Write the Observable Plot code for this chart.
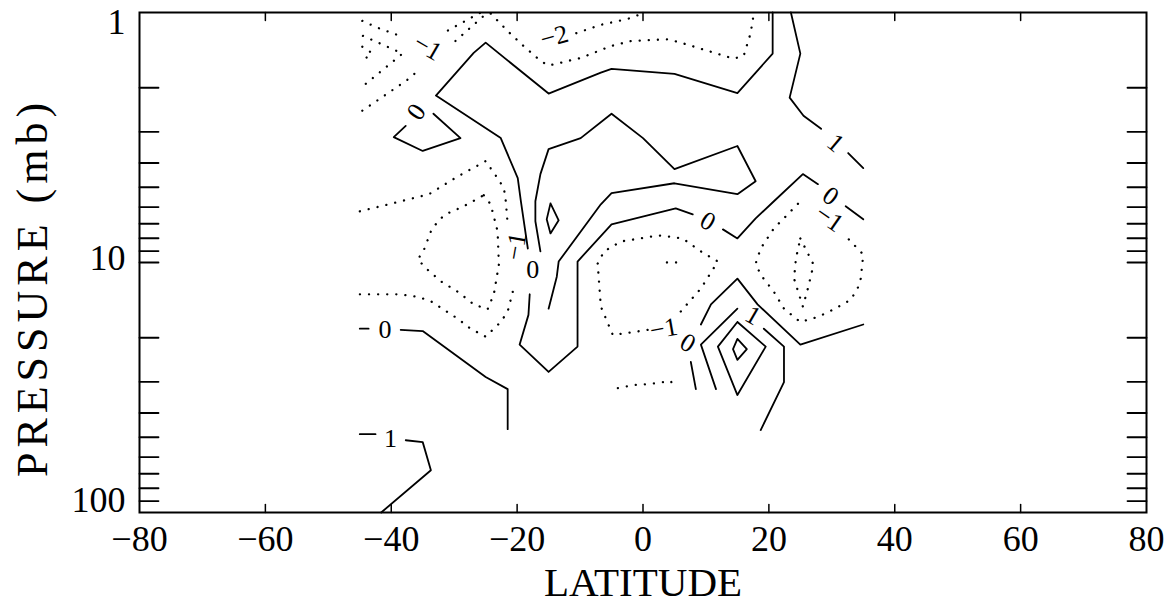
<!DOCTYPE html>
<html><head><meta charset="utf-8">
<script src="https://cdn.jsdelivr.net/npm/d3@7"></script>
<script src="https://cdn.jsdelivr.net/npm/@observablehq/plot@0.6"></script>
<style>body{margin:0;background:#fff} #chart svg{display:block} #chart svg text[transform*="rotate(-90)"]{letter-spacing:5px}</style>
</head><body><div id="chart"></div>
<script>
// Axis values
const xTicks = [-80, -60, -40, -20, 0, 20, 40, 60, 80];
const xInnerTicks = [-60, -40, -20, 0, 20, 40, 60];
const yLabelTicks = [1, 10, 100];
const yMinorTicks = [2, 3, 4, 5, 6, 7, 8, 9, 10, 20, 30, 40, 50, 60, 70, 80, 90];

// Contour vertices as [latitude, pressure (mb)]; level >= 0 solid, < 0 dotted
const zeroA = [[20.6,1],[20.6,1.46],[15,2.1],[5,1.76],[-5,1.68],[-6.7,1.74],[-15,2.11],[-25,1.32],[-26.9,1.45],[-32.9,2.15],[-22.6,3.18],[-19.9,4.6],[-19.4,5.69],[-18.3,8.79]];
const zeroB = [[-18,13.4],[-18.2,16.2],[-19.6,21.3],[-15,27.4],[-10.4,21.7],[-10.4,9.91],[-5,7.04],[5.2,6.07],[7.9,6.42]];
const zeroC = [[12.7,7.37],[15,8.01],[17.9,6.66],[20.8,5.69],[25.4,4.43],[27.8,4.86]];
const zeroD = [[32.2,5.96],[35,6.72]];
const zeroTongue = [[-16.3,9.03],[-17.1,6.84],[-17.1,5.69],[-16.3,4.43],[-15,3.52],[-9.9,3.18],[-5,2.54],[0,3.18],[5,4.23],[15,3.42],[17.9,4.73],[15,5.33],[5,4.82],[-5,5.28],[-6.7,5.85],[-13.4,9.91],[-13.7,11.4],[-15,15.3]];
const zeroSmallDiamond = [[-14.7,5.8],[-13.4,6.78],[-14.7,7.65],[-15.3,6.72],[-14.7,5.8]];
const zeroUpperLoop = [[-33.3,2.54],[-29,3.18],[-35,3.58],[-39.6,3.15],[-37.7,2.84]];
const zeroLowLeftA = [[-45,18.4],[-43.6,18.4]];
const zeroLowLeftB = [[-38.5,18.6],[-35,18.8],[-25,28.7],[-21.5,32.1],[-21.5,46.4]];
const zeroLowRightA = [[35,17.7],[25,21.3],[18.2,14.7],[15,11.6],[10.8,14.7],[9.2,17.7]];
const zeroLowRightB = [[7.6,25.0],[8.4,32.1]];
const oneTopA = [[23.5,1],[25,1.46],[23.3,2.19],[25.5,2.59],[28.3,2.92]];
const oneTopB = [[32.6,3.65],[35,4.19]];
const oneLowLeftA = [[-45,48.6],[-42.5,48.6]];
const oneLowLeftB = [[-37.7,51.4],[-35,52.3],[-33.7,67.8],[-41.6,100]];
const oneLowRightA = [[15,15.3],[9.2,21.3],[11.6,32.1]];
const oneLowRightB = [[19.2,18.4],[22.4,21.7],[22.4,30.1],[18.7,46.8]];
const twoDiamond = [[15,17.3],[19.5,21.7],[15,33.9],[11.9,21.7],[15,17.3]];
const threeDiamond = [[15,20.2],[16.5,22.2],[15,24.5],[14.3,22.2],[15,20.2]];

const negTopEdge = [[-24.2,1.01],[-21.3,1.2],[-19,1.36],[-16.3,1.56],[-15,1.63],[-9.9,1.52],[-5,1.36],[-1.9,1.3],[3.9,1.28],[6,1.32],[14.4,1.53],[16,1.49],[17.1,1.21],[17.6,1.01]];
const negTwoTop = [[-10.6,1.21],[-6.7,1.12],[-2.4,1.06],[0.4,1.0]];
const fanA = [[-44.6,1.08],[-42.2,1.15],[-39,1.23],[-37.9,1.26]];
const fanB = [[-44.5,1.24],[-38.2,1.46],[-44.6,1.98]];
const fanC = [[-44.6,1.37],[-43.1,1.45],[-44.6,1.57]];
const fanF = [[-44.6,2.47],[-37.7,1.88],[-36.6,1.79],[-35.4,1.66]];
const fanG1 = [[-31,1.18],[-25.8,1.0]];
const fanG2 = [[-29.8,1.3],[-24.7,1.0]];
const negLeftOuterA = [[-45,6.24],[-40.4,5.85],[-34,5.33],[-29.4,4.52],[-25,3.93],[-23.1,4.6],[-22.1,5.05],[-21.8,5.69],[-21.5,7.04]];
const negLeftOuterB = [[-20.7,13.1],[-21.5,15.7],[-22.6,17.3],[-25,19.8],[-27.4,18.4],[-29.4,16.8],[-31.7,15.4],[-33.7,14.3],[-35.8,13.7],[-39,13.4],[-45,13.4]];
const negLeftInner = [[-25.3,5.38],[-24.2,5.85],[-23.1,7.51],[-22.9,10.2],[-23.7,13.4],[-24.7,15.4],[-26.9,14.7],[-29.4,13.1],[-32.1,11.9],[-34.2,10.7],[-35.8,9.72],[-34.9,9.03],[-33.7,7.51],[-32.6,6.84],[-31.4,6.42],[-28.5,5.96],[-25.3,5.38]];
const negMidLoop = [[6,15.7],[9.2,12.7],[11.9,9.91],[9.2,9.03],[6.3,8.01],[2.5,7.79],[-3.5,8.24],[-6.2,9.03],[-7.2,10.1],[-6.7,15.0],[-4.8,19.5],[0.8,18.6]];
const negMidDash = [[3.8,10.0],[5.7,10.0]];
const negLowShort = [[-4,31.8],[-1.5,30.9],[1.2,30.6],[4.4,29.8],[5.2,32.1]];
const negRightLoop = [[32.7,8.08],[35,9.29],[34.6,11.6],[34.1,12.7],[33,14.1],[30.3,15.4],[27.8,16.5],[25,17.3],[22.4,15.3],[20.8,13.1],[18.7,11.2],[17.9,10.1],[18.7,8.79],[20.8,7.3],[23,6.42],[25,5.69]];
const negRightInner = [[25,8.01],[27.1,10.2],[26.2,12.7],[25.4,15.0],[24,11.6],[24.3,9.64],[25,8.01]];

const contourLines = [
  [0, zeroA],[0, zeroB],[0, zeroC],[0, zeroD],[0, zeroTongue],[0, zeroSmallDiamond],[0, zeroUpperLoop],
  [0, zeroLowLeftA],[0, zeroLowLeftB],[0, zeroLowRightA],[0, zeroLowRightB],
  [1, oneTopA],[1, oneTopB],[1, oneLowLeftA],[1, oneLowLeftB],[1, oneLowRightA],[1, oneLowRightB],
  [2, twoDiamond],[3, threeDiamond],
  [-1, negTopEdge],[-2, negTwoTop],[-1, fanA],[-2, fanB],[-3, fanC],[-1, fanF],[-1, fanG1],[-2, fanG2],
  [-1, negLeftOuterA],[-1, negLeftOuterB],[-2, negLeftInner],[-1, negMidLoop],[-2, negMidDash],
  [-1, negLowShort],[-1, negRightLoop],[-2, negRightInner]
];

// Contour labels
const labelText = ["0","0","0","0","1","−1","0","−1","−2","0","1","−1","1","−1"];
const labelLat  = [-17.5, 10.3, 29.8, -36, 30.6, 29.6, -41, -34.2, -14.1, 7.1, -40.1, 3.3, 17.5, -20.2];
const labelP    = [10.7, 6.84, 5.43, 2.5, 3.33, 6.66, 18.6, 1.38, 1.25, 21.0, 50.5, 18.4, 16.3, 8.62];
const labelRot  = [0, 30, 35, -55, 40, 35, 0, 30, -15, 30, 0, -10, 30, -80];

const rows = contourLines.flatMap(([level, pts], i) => pts.map(([lat, p]) => ({id: i, level, lat, p})));
const solid = rows.filter(d => d.level >= 0);
const dotted = rows.filter(d => d.level < 0);
const labels = labelText.map((t, i) => ({text: t, lat: labelLat[i], p: labelP[i], rotate: labelRot[i]}));

const tickShape = {draw(ctx, l) { ctx.moveTo(0, 0); ctx.lineTo(0, -l); }};
const font = "'Liberation Serif', 'Times New Roman', serif";

const chart = Plot.plot({
  width: 1169, height: 604,
  marginLeft: 139, marginRight: 23, marginTop: 12, marginBottom: 92,
  style: {fontFamily: font, background: "#fff", color: "#000"},
  x: {domain: [-80, 80]},
  y: {type: "log", domain: [1, 100], reverse: true},
  marks: [
    Plot.line(solid, {x: "lat", y: "p", z: "id", stroke: "#000", strokeWidth: 1.8}),
    Plot.line(dotted, {x: "lat", y: "p", z: "id", stroke: "#000", strokeWidth: 2.3, strokeDasharray: "0.1,9", strokeLinecap: "round"}),
    Plot.text(labels, {x: "lat", y: "p", text: "text", rotate: "rotate", fontSize: 26, fill: "#000", fontFamily: font}),
    Plot.vector(xInnerTicks, {x: d => d, frameAnchor: "bottom", anchor: "start", length: 8, rotate: 0, shape: tickShape, stroke: "#000", strokeWidth: 1.5}),
    Plot.vector(xInnerTicks, {x: d => d, frameAnchor: "top", anchor: "start", length: 8, rotate: 180, shape: tickShape, stroke: "#000", strokeWidth: 1.5}),
    Plot.vector(yMinorTicks, {y: d => d, frameAnchor: "left", anchor: "start", length: 19, rotate: 90, shape: tickShape, stroke: "#000", strokeWidth: 1.8}),
    Plot.vector(yMinorTicks, {y: d => d, frameAnchor: "right", anchor: "start", length: 19, rotate: -90, shape: tickShape, stroke: "#000", strokeWidth: 1.8}),
    Plot.frame({stroke: "#000", strokeWidth: 2}),
    Plot.axisX({ticks: xTicks, tickSize: 0, tickPadding: 13, fontSize: 36, label: null, fontFamily: font}),
    Plot.axisY({ticks: [yLabelTicks[0]], tickSize: 0, tickPadding: 14, fontSize: 36, label: null, dy: 10, fontFamily: font}),
    Plot.axisY({ticks: [yLabelTicks[1]], tickSize: 0, tickPadding: 14, fontSize: 36, label: null, dy: -4, fontFamily: font}),
    Plot.axisY({ticks: [yLabelTicks[2]], tickSize: 0, tickPadding: 14, fontSize: 36, label: null, dy: -12, fontFamily: font}),
    Plot.text(["LATITUDE"], {frameAnchor: "bottom", textAnchor: "middle", lineAnchor: "middle", dy: 70, fontSize: 41, fontFamily: font}),
    Plot.text(["PRESSURE (mb)"], {frameAnchor: "left", textAnchor: "middle", lineAnchor: "middle", dx: -107, dy: 25, rotate: -90, fontSize: 44, fontFamily: font})
  ]
});
document.getElementById("chart").append(chart);
</script>
</body></html>
